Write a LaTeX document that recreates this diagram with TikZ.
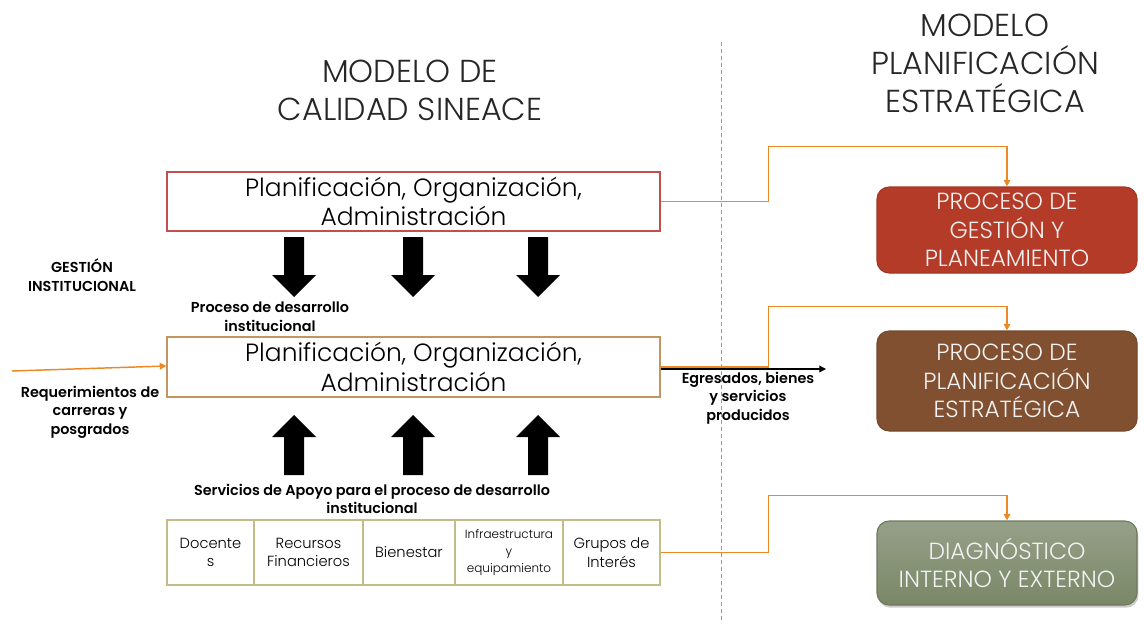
\documentclass[tikz,border=0pt]{standalone}
\usepackage{fontspec}
\setmainfont{Poppins}[UprightFont={* Light},BoldFont={* SemiBold}]
\usetikzlibrary{arrows.meta,calc,shadows}
\definecolor{boxred}{RGB}{192,80,77}
\definecolor{boxtan}{RGB}{196,150,95}
\definecolor{cellline}{RGB}{196,188,135}
\definecolor{conorange}{RGB}{237,137,37}
\definecolor{fillred}{RGB}{180,59,39}
\definecolor{fillbrown}{RGB}{128,80,48}
\definecolor{greentop}{RGB}{150,160,137}
\definecolor{greenbot}{RGB}{122,135,102}
\begin{document}
\begin{tikzpicture}[x=0.75pt,y=-0.75pt,
  title/.style={align=center,font=\fontsize{23.8}{28.5}\selectfont,text=black!85},
  bigbox/.style={draw,line width=0.9pt,fill=white,minimum width=369.75pt,align=center,inner sep=0pt,font=\fontsize{18.7}{22}\selectfont},
  procbox/.style={rounded corners=9pt,draw,line width=0.8pt,minimum width=195pt,align=center,inner sep=0pt,text=white!95!black,font=\fontsize{17.5}{21.5}\selectfont},
  cell/.style={draw=cellline,line width=0.9pt,minimum height=48.75pt,align=center,inner sep=0pt,font=\fontsize{11}{14}\selectfont},
  lbl/.style={align=center,font=\bfseries\fontsize{10.8}{14}\selectfont},
  conn/.style={draw=conorange,line width=1.1pt,-{Triangle[length=5pt,width=5pt]}},
  blockarrow/.style={fill=black}]
\useasboundingbox (0,0) rectangle (1144,624);
% titles
\node[title] (t1) at (410,90) {MODELO DE\\CALIDAD SINEACE};
\node[title] (t2) at (985,63) {MODELO\\PLANIFICACIÓN\\ESTRATÉGICA};
% divider
\draw[conorange,line width=0.7pt,dash pattern=on 3pt off 2.25pt] (721,42) -- (721,620);
% main boxes
\node[bigbox,draw=boxred,minimum height=44.25pt] (top) at (413.5,201.5) {Planificación, Organización,\\Administración};
\node[bigbox,draw=boxtan,minimum height=45pt] (mid) at (413.5,367) {Planificación, Organización,\\Administración};
% block arrows
\foreach \cx in {294,413,538}{
  \fill[blockarrow] (\cx-10,237) -- (\cx+10,237) -- (\cx+10,275) -- (\cx+22,275) -- (\cx,297) -- (\cx-22,275) -- (\cx-10,275) -- cycle;
  \fill[blockarrow] (\cx-10,475) -- (\cx+10,475) -- (\cx+10,437) -- (\cx+22,437) -- (\cx,415) -- (\cx-22,437) -- (\cx-10,437) -- cycle;
}
% labels
\node[lbl] (gi) at (82,275) {GESTIÓN\\INSTITUCIONAL};
\node[lbl] (pdi) at (270,317) {Proceso de desarrollo\\institucional};
\node[lbl] (req) at (90,412) {Requerimientos de\\carreras y\\posgrados};
\node[lbl] (sap) at (372,499) {Servicios de Apoyo para el proceso de desarrollo\\institucional};
% table
\node[cell,minimum width=65.25pt] (c1) at (210.5,552.5) {Docente\\s};
\node[cell,minimum width=81.75pt] (c2) at (308.5,552.5) {Recursos\\Financieros};
\node[cell,minimum width=69pt] (c3) at (409,552.5) {Bienestar};
\node[cell,minimum width=81pt,font=\fontsize{9}{12.5}\selectfont] (c4) at (509,552.5) {Infraestructura\\y\\equipamiento};
\node[cell,minimum width=72.75pt] (c5) at (611.5,552.5) {Grupos de\\Interés};
% process boxes
\node[procbox,draw=fillred!90!black,fill=fillred,minimum height=64.5pt] (p1) at (1007,230) {PROCESO DE\\GESTIÓN Y\\PLANEAMIENTO};
\node[procbox,draw=fillbrown!90!black,fill=fillbrown,minimum height=75pt] (p2) at (1007,381) {PROCESO DE\\PLANIFICACIÓN\\ESTRATÉGICA};
\node[procbox,draw=greenbot!90!black,top color=greentop,bottom color=greenbot,drop shadow={shadow xshift=1pt,shadow yshift=-2pt,opacity=0.4},minimum height=63pt] (p3) at (1007,563) {DIAGNÓSTICO\\INTERNO Y EXTERNO};
% connectors
\coordinate (reqstart) at (12,371);
\draw[conn] (reqstart) -- ([yshift=0.75pt]mid.west);
\draw[conn] (top.east) -- ++(108,0) |- ($(p1.north)+(0,-40)$) -- (p1.north);
\draw[conn] (mid.east) -- ++(108,0) |- ($(p2.north)+(0,-24)$) -- (p2.north);
\draw[conn] (c5.east) -- ++(108,0) |- ($(p3.north)+(0,-25)$) -- (p3.north);
\coordinate (egend) at (826,369);
\draw[line width=0.9pt,-{Triangle[length=5pt,width=5pt]}] ($(mid.east)+(0,2)$) -- (egend);
\node[lbl] (egr) at (748,398) {Egresados, bienes\\y servicios\\producidos};
\end{tikzpicture}
\end{document}
